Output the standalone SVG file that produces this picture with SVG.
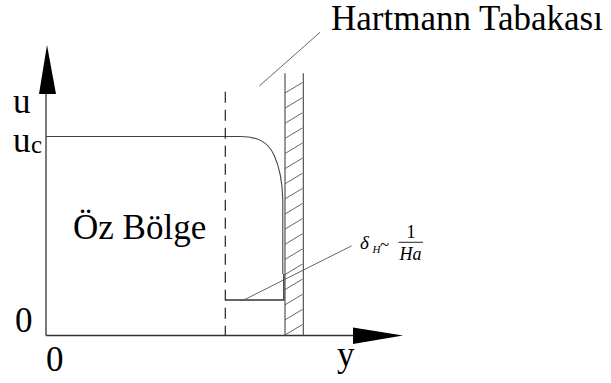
<svg xmlns="http://www.w3.org/2000/svg" width="611" height="383" viewBox="0 0 611 383">
<style>
.ax{stroke:#333;stroke-width:1.3;fill:none}
.ln{stroke:#444;stroke-width:1.1;fill:none}
.thin{stroke:#555;stroke-width:0.9;fill:none}
.dash{stroke:#222;stroke-width:1.2;fill:none;stroke-dasharray:11 7}
text{font-family:'Liberation Serif','Times New Roman',Times,serif;fill:#000}
.ti{font-style:italic}
</style>
<rect width="611" height="383" fill="#fff"/>
<g id="axes">
<line class="ax" x1="46" y1="60" x2="46" y2="335.5"/>
<line class="ax" x1="46" y1="335.5" x2="380" y2="335.5"/>
<polygon points="47,45 39,94 56,94" fill="#000"/>
<polygon points="403,335.5 353,327.5 353,344" fill="#000"/>
</g>
<g id="wall">
<line class="ln" x1="285" y1="73.3" x2="285" y2="335.5"/>
<line class="ln" x1="303.3" y1="73.3" x2="303.3" y2="335.5"/>
<g class="thin">
<line x1="285" y1="93" x2="302.5" y2="82.5"/>
<line x1="285" y1="108.1" x2="302.5" y2="97.6"/>
<line x1="285" y1="123.3" x2="302.5" y2="112.8"/>
<line x1="285" y1="138.4" x2="302.5" y2="127.9"/>
<line x1="285" y1="153.5" x2="302.5" y2="143"/>
<line x1="285" y1="168.6" x2="302.5" y2="158.1"/>
<line x1="285" y1="183.8" x2="302.5" y2="173.3"/>
<line x1="285" y1="198.9" x2="302.5" y2="188.4"/>
<line x1="285" y1="214" x2="302.5" y2="203.5"/>
<line x1="285" y1="229.1" x2="302.5" y2="218.6"/>
<line x1="285" y1="244.3" x2="302.5" y2="233.8"/>
<line x1="285" y1="259.4" x2="302.5" y2="248.9"/>
<line x1="285" y1="274.5" x2="302.5" y2="264"/>
<line x1="285" y1="289.6" x2="302.5" y2="279.1"/>
<line x1="285" y1="304.8" x2="302.5" y2="294.3"/>
<line x1="285" y1="319.9" x2="302.5" y2="309.4"/>
<line x1="285" y1="335" x2="302.5" y2="324.5"/>
</g>
</g>
<g id="profile">
<line class="ln" x1="46" y1="136.5" x2="240" y2="136.5"/>
<path class="ln" d="M240,136.5 C258,136.5 268,142 274,155 C280,168 282.5,185 282.8,200 L282.8,274"/>
<path class="ax" d="M283.8,274 L283.8,300 L225.7,300"/>
<line class="dash" x1="225.3" y1="91.7" x2="225.3" y2="335.5"/>
</g>
<g id="connectors">
<line class="thin" x1="259.3" y1="86" x2="320" y2="32.3"/>
<line class="thin" x1="351.7" y1="245.8" x2="242.7" y2="300.5"/>
</g>
<g id="labels">
<text x="331" y="30" font-size="35">Hartmann Tabakası</text>
<text x="13" y="113" font-size="35">u</text>
<text x="13" y="152" font-size="35">u</text>
<text x="31" y="153" font-size="25">c</text>
<text x="73" y="239" font-size="35">Öz Bölge</text>
<text x="15" y="331.5" font-size="35">0</text>
<text x="46" y="370.5" font-size="35">0</text>
<text x="337" y="366" font-size="35">y</text>
</g>
<g id="delta-label">
<text class="ti" x="360" y="249" font-size="19">δ</text>
<text class="ti" x="372.5" y="253" font-size="11">H</text>
<text x="380" y="250" font-size="17">~</text>
<text x="411" y="238" font-size="18" text-anchor="middle">1</text>
<line x1="398.5" y1="242.3" x2="423" y2="242.3" stroke="#222" stroke-width="1"/>
<text class="ti" x="410.5" y="260" font-size="18" text-anchor="middle">Ha</text>
</g>
</svg>
